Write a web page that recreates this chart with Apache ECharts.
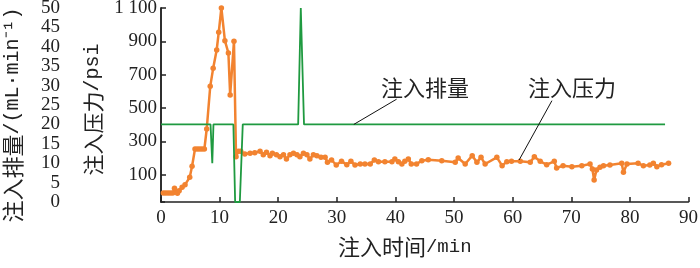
<!DOCTYPE html>
<html>
<head>
<meta charset="utf-8">
<script src="https://cdn.jsdelivr.net/npm/echarts@6/dist/echarts.min.js"></script>
<style>html,body{margin:0;padding:0;background:#fff}#c{width:700px;height:268px}</style>
</head>
<body>
<div id="c"></div>
<script>
// ---- data ----
var flowTime = [0, 8.45, 8.75, 8.95, 12.35, 12.65, 13.45, 13.95, 23.4, 23.85, 24.4, 86];
var flowRate = [20, 20, 10, 20, 20, 0, 0, 20, 20, 50, 20, 20];

var pressureTime = [0.4,0.8,1.2,1.6,2.0,2.3,2.8,3.1,3.6,4.1,4.9,5.3,5.8,6.2,6.6,7.0,7.4,7.8,8.4,8.9,9.5,9.85,10.3,10.9,11.5,11.8,12.45,12.8,13.2,13.6,
  14.3,15.2,16.0,16.9,17.45,18.0,18.6,19.0,19.7,20.3,20.9,21.4,22.0,22.6,23.2,23.7,24.3,24.9,25.4,26.0,26.6,27.3,28.0,28.4,29.1,29.9,
  30.8,31.7,32.4,33.1,34.0,34.8,35.7,36.4,37.1,38.2,39.4,39.9,40.5,41.1,41.6,42.2,42.7,43.6,44.5,45.6,47.9,50.2,50.7,51.9,53.1,53.9,
  54.6,55.3,57.3,58.2,59.0,59.8,61.3,63.0,63.7,64.7,65.8,67.1,67.5,68.6,70.1,71.8,73.2,73.6,73.9,74.3,74.9,75.5,76.6,78.6,78.9,79.5,
  81.4,82.3,83.4,84.0,84.6,85.4,86.6];
var pressureValue = [-10,-10,-10,-10,-10,18,-12,4,24,40,84,150,254,254,254,254,254,374,630,738,848,954,1100,904,830,578,900,208,240,240,
  224,228,232,240,220,234,214,228,220,208,220,194,220,228,220,208,228,220,194,220,214,204,204,174,188,158,
  180,160,180,158,164,164,164,188,178,178,178,194,178,164,180,194,164,164,184,189,184,174,200,164,214,174,
  204,164,204,154,178,180,180,174,208,180,160,180,140,154,148,154,164,134,68,128,144,154,158,168,114,164,
  168,154,158,168,148,160,168];

var xTicks = [0,10,20,30,40,50,60,70,80,90];
var flowTicks = [0,5,10,15,20,25,30,35,40,45,50];
var pressureTicks = [100,300,500,700,900,1100];

// leader lines of the two callouts (data coordinates)
var flowLeader = [[40.2, 26.5], [32.9, 20.0]];
var pressureLeader = [[66.7, 544], [61.1, 188]];

// ---- chart ----
var flowData = flowTime.map(function (t, i) { return [t, flowRate[i]]; });
var pressureData = pressureTime.map(function (t, i) { return [t, pressureValue[i]]; });

var INK = '#222';
var SERIF = 'Liberation Serif';
var MONO = 'Liberation Mono';
var CJK = 'Noto Sans CJK SC';
var GREEN = '#1f9a40';
var ORANGE = '#f28330';

var chart = echarts.init(document.getElementById('c'), null, {renderer: 'canvas'});
chart.setOption({
  animation: false,
  backgroundColor: '#fff',
  grid: {left: 161, right: 11.5, top: 8, bottom: 66, containLabel: false, outerBoundsMode: 'none'},
  xAxis: {
    type: 'value', min: 0, max: 90, interval: 10,
    axisLine: {lineStyle: {color: INK, width: 1.5}},
    axisTick: {inside: true, length: 5, lineStyle: {color: INK, width: 1.5}},
    axisLabel: {color: INK, fontFamily: SERIF, fontSize: 19, margin: 7,
      customValues: xTicks},
    splitLine: {show: false},
    name: '{c|注入时间}{l|/min}',
    nameLocation: 'middle', nameGap: 34,
    nameTextStyle: {padding: [0, 40, 0, 0],
      rich: {c: {fontFamily: CJK, fontSize: 22, color: INK}, l: {fontFamily: MONO, fontSize: 19, color: INK}}}
  },
  yAxis: [{
    type: 'value', position: 'left', offset: 91, min: 0, max: 50, interval: 5,
    axisLine: {show: true, lineStyle: {color: INK, width: 1.5}},
    axisTick: {show: true, inside: true, length: 4, customValues: [0, 50], lineStyle: {color: INK, width: 1.5}},
    axisLabel: {color: INK, fontFamily: SERIF, fontSize: 19, margin: 10, customValues: flowTicks},
    splitLine: {show: false},
    name: '{c|注入排量}{l|/(mL·min⁻¹)}',
    nameLocation: 'middle', nameRotate: 90, nameGap: 46,
    nameTextStyle: {padding: [0, 20, 0, 0],
      rich: {c: {fontFamily: CJK, fontSize: 22, color: INK}, l: {fontFamily: MONO, fontSize: 20, color: INK}}}
  }, {
    type: 'value', position: 'left', offset: 0, min: -64, max: 1100,
    axisLine: {show: true, lineStyle: {color: INK, width: 1.5}},
    axisTick: {show: true, inside: true, length: 5, customValues: pressureTicks, lineStyle: {color: INK, width: 1.5}},
    axisLabel: {color: INK, fontFamily: SERIF, fontSize: 19, margin: 4, customValues: pressureTicks,
      formatter: function (v) { return v >= 1000 ? '1 ' + String(v).slice(1) : String(v); }},
    splitLine: {show: false},
    name: '{c|注入压力}{l|/psi}',
    nameLocation: 'middle', nameRotate: 90, nameGap: 52,
    nameTextStyle: {padding: [0, 9, 0, 0],
      rich: {c: {fontFamily: CJK, fontSize: 21, color: INK}, l: {fontFamily: MONO, fontSize: 20, color: INK}}}
  }],
  series: [{
    name: '注入压力', type: 'line', yAxisIndex: 1, data: pressureData,
    symbol: 'circle', symbolSize: 5.5, showSymbol: true,
    itemStyle: {color: ORANGE}, lineStyle: {color: ORANGE, width: 2.5},
    z: 2,
    markLine: {silent: true, symbol: ['none', 'none'], label: {show: false},
      lineStyle: {color: '#111', width: 1, type: 'solid'},
      data: [[{coord: pressureLeader[0]}, {coord: pressureLeader[1]}]]}
  }, {
    name: '注入排量', type: 'line', yAxisIndex: 0, data: flowData,
    showSymbol: false, symbol: 'none',
    lineStyle: {color: GREEN, width: 1.8},
    z: 3,
    markLine: {silent: true, symbol: ['none', 'none'], label: {show: false},
      lineStyle: {color: '#111', width: 1, type: 'solid'},
      data: [[{coord: flowLeader[0]}, {coord: flowLeader[1]}]]}
  }],
  graphic: [
    {type: 'text', x: 425, y: 88, style: {text: '注入排量', font: '22px "Noto Sans CJK SC"', fill: INK, align: 'center', verticalAlign: 'middle'}},
    {type: 'text', x: 572, y: 88, style: {text: '注入压力', font: '22px "Noto Sans CJK SC"', fill: INK, align: 'center', verticalAlign: 'middle'}}
  ]
});
</script>
</body>
</html>
